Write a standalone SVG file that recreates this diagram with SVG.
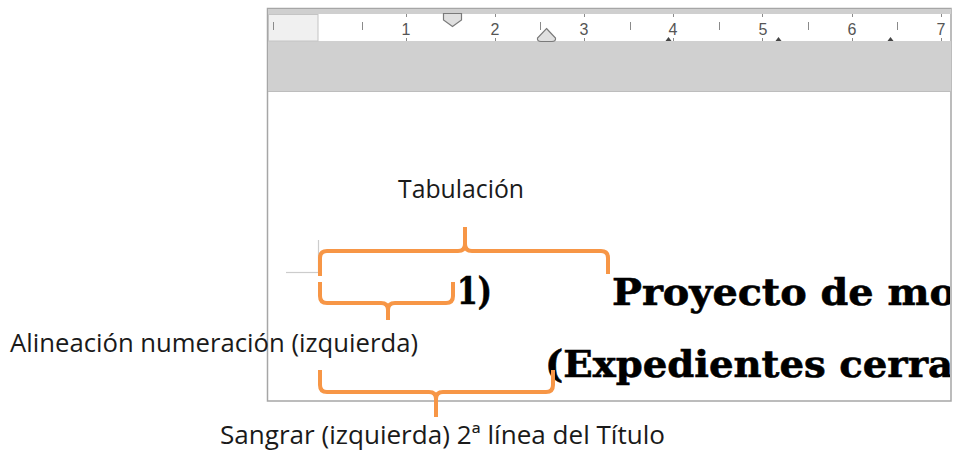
<svg xmlns="http://www.w3.org/2000/svg" width="955" height="452" viewBox="0 0 955 452">
  <defs>
    <style>
      .lbl { font-family: "Open Sans", "Liberation Sans", sans-serif; font-size: 25.5px; fill: #1a1a1a; }
      .doc { font-family: "DejaVu Serif", "Liberation Serif", serif; font-weight: bold; font-size: 37px; fill: #000; stroke: #000; stroke-width: 0.6; }
      .num { font-family: "Liberation Sans Narrow", "Liberation Sans", sans-serif; font-size: 16px; fill: #555; text-anchor: middle; }
      .tick { stroke: #8a8a8a; stroke-width: 1; }
      .brace { fill: none; stroke: #F79646; stroke-width: 4; stroke-linejoin: round; stroke-linecap: butt; }
      .tab { fill: #444; }
      .mark { fill: #e0e0e0; stroke: #7a7a7a; stroke-width: 1.2; }
    </style>
    <clipPath id="pageClip">
      <rect x="268" y="92" width="682" height="308"/>
    </clipPath>
  </defs>
  <rect width="955" height="452" fill="#fff"/>

  <g id="window">
    <rect x="267.5" y="8.5" width="683.5" height="392.5" fill="#fff" stroke="#a6a6a6" stroke-width="1.5"/>
    <rect x="268" y="9" width="683" height="5" fill="#cfcfcf"/>
    <rect x="268" y="41" width="683" height="50" fill="#d0d0d0"/>
    <line x1="268" y1="91.5" x2="951" y2="91.5" stroke="#bdbdbd" stroke-width="1"/>
  </g>

  <g id="ruler">
    <rect x="268.5" y="14.5" width="49.5" height="26.5" fill="#f0f0f0" stroke="#c4c4c4" stroke-width="1"/>
    <line class="tick" x1="273.5" y1="22" x2="273.5" y2="30"/>
    <line class="tick" x1="362.5" y1="22" x2="362.5" y2="30"/>
    <line class="tick" x1="540.5" y1="22" x2="540.5" y2="30"/>
    <line class="tick" x1="630.5" y1="22" x2="630.5" y2="30"/>
    <line class="tick" x1="719.5" y1="22" x2="719.5" y2="30"/>
    <line class="tick" x1="808.5" y1="22" x2="808.5" y2="30"/>
    <line class="tick" x1="897.5" y1="22" x2="897.5" y2="30"/>
    <g class="tick">
      <line x1="406.5" y1="14" x2="406.5" y2="17"/><line x1="406.5" y1="38" x2="406.5" y2="41"/>
      <line x1="495.5" y1="14" x2="495.5" y2="17"/><line x1="495.5" y1="38" x2="495.5" y2="41"/>
      <line x1="584.5" y1="14" x2="584.5" y2="17"/><line x1="584.5" y1="38" x2="584.5" y2="41"/>
      <line x1="673.5" y1="14" x2="673.5" y2="17"/><line x1="673.5" y1="38" x2="673.5" y2="41"/>
      <line x1="762.5" y1="14" x2="762.5" y2="17"/><line x1="762.5" y1="38" x2="762.5" y2="41"/>
      <line x1="852.5" y1="14" x2="852.5" y2="17"/><line x1="852.5" y1="38" x2="852.5" y2="41"/>
      <line x1="941.5" y1="14" x2="941.5" y2="17"/><line x1="941.5" y1="38" x2="941.5" y2="41"/>
    </g>
    <text class="num" x="406" y="35">1</text>
    <text class="num" x="495" y="35">2</text>
    <text class="num" x="584" y="35">3</text>
    <text class="num" x="673" y="35">4</text>
    <text class="num" x="763" y="35">5</text>
    <text class="num" x="852" y="35">6</text>
    <text class="num" x="941" y="35">7</text>
    <path class="mark" d="M443.5,13.5 H461.5 V20 L452.5,26.5 L443.5,20 Z"/>
    <path class="mark" d="M546.5,28.5 L555.5,38 Q556,41.5 552,41.5 H541 Q537,41.5 537.5,38 Z"/>
    <path class="tab" d="M665.5,41 L668.5,37 L671.5,41 Z"/>
    <path class="tab" d="M775.5,41 L778.5,37 L781.5,41 Z"/>
    <path class="tab" d="M887.5,41 L890.5,37 L893.5,41 Z"/>
  </g>

  <g id="page">
    <line x1="318.5" y1="240" x2="318.5" y2="272" stroke="#cccccc" stroke-width="1.2"/>
    <line x1="286" y1="272.5" x2="318" y2="272.5" stroke="#cccccc" stroke-width="1.2"/>
    <g clip-path="url(#pageClip)">
      <text class="doc" x="457" y="304" textLength="35" lengthAdjust="spacingAndGlyphs">1)</text>
      <text class="doc" x="612" y="305" textLength="344" lengthAdjust="spacingAndGlyphs">Proyecto de mo</text>
      <text class="doc" x="545" y="377" textLength="408" lengthAdjust="spacingAndGlyphs">(Expedientes cerra</text>
    </g>
  </g>

  <g id="connectors">
    <path class="brace" d="M320,276 V258 Q320,251 327,251 H458 Q465,251 465,244 V227 M465,244 Q465,251 472,251 H601 Q608,251 608,258 V274"/>
    <path class="brace" d="M320,282 V296 Q320,303 327,303 H381 Q388,303 388,310 V320 M388,310 Q388,303 395,303 H446 Q453,303 453,296 V282"/>
    <path class="brace" d="M320,370 V385 Q320,392 327,392 H429 Q436,392 436,399 V417 M436,399 Q436,392 443,392 H546 Q553,392 553,385 V370"/>
  </g>

  <g id="label-tabulacion">
    <text class="lbl" x="398" y="198" textLength="126" lengthAdjust="spacingAndGlyphs">Tabulación</text>
  </g>
  <g id="label-alineacion">
    <text class="lbl" x="10" y="352" textLength="408" lengthAdjust="spacingAndGlyphs">Alineación numeración (izquierda)</text>
  </g>
  <g id="label-sangrar">
    <text class="lbl" x="220" y="444" textLength="445" lengthAdjust="spacingAndGlyphs">Sangrar (izquierda) 2ª línea del Título</text>
  </g>
</svg>
